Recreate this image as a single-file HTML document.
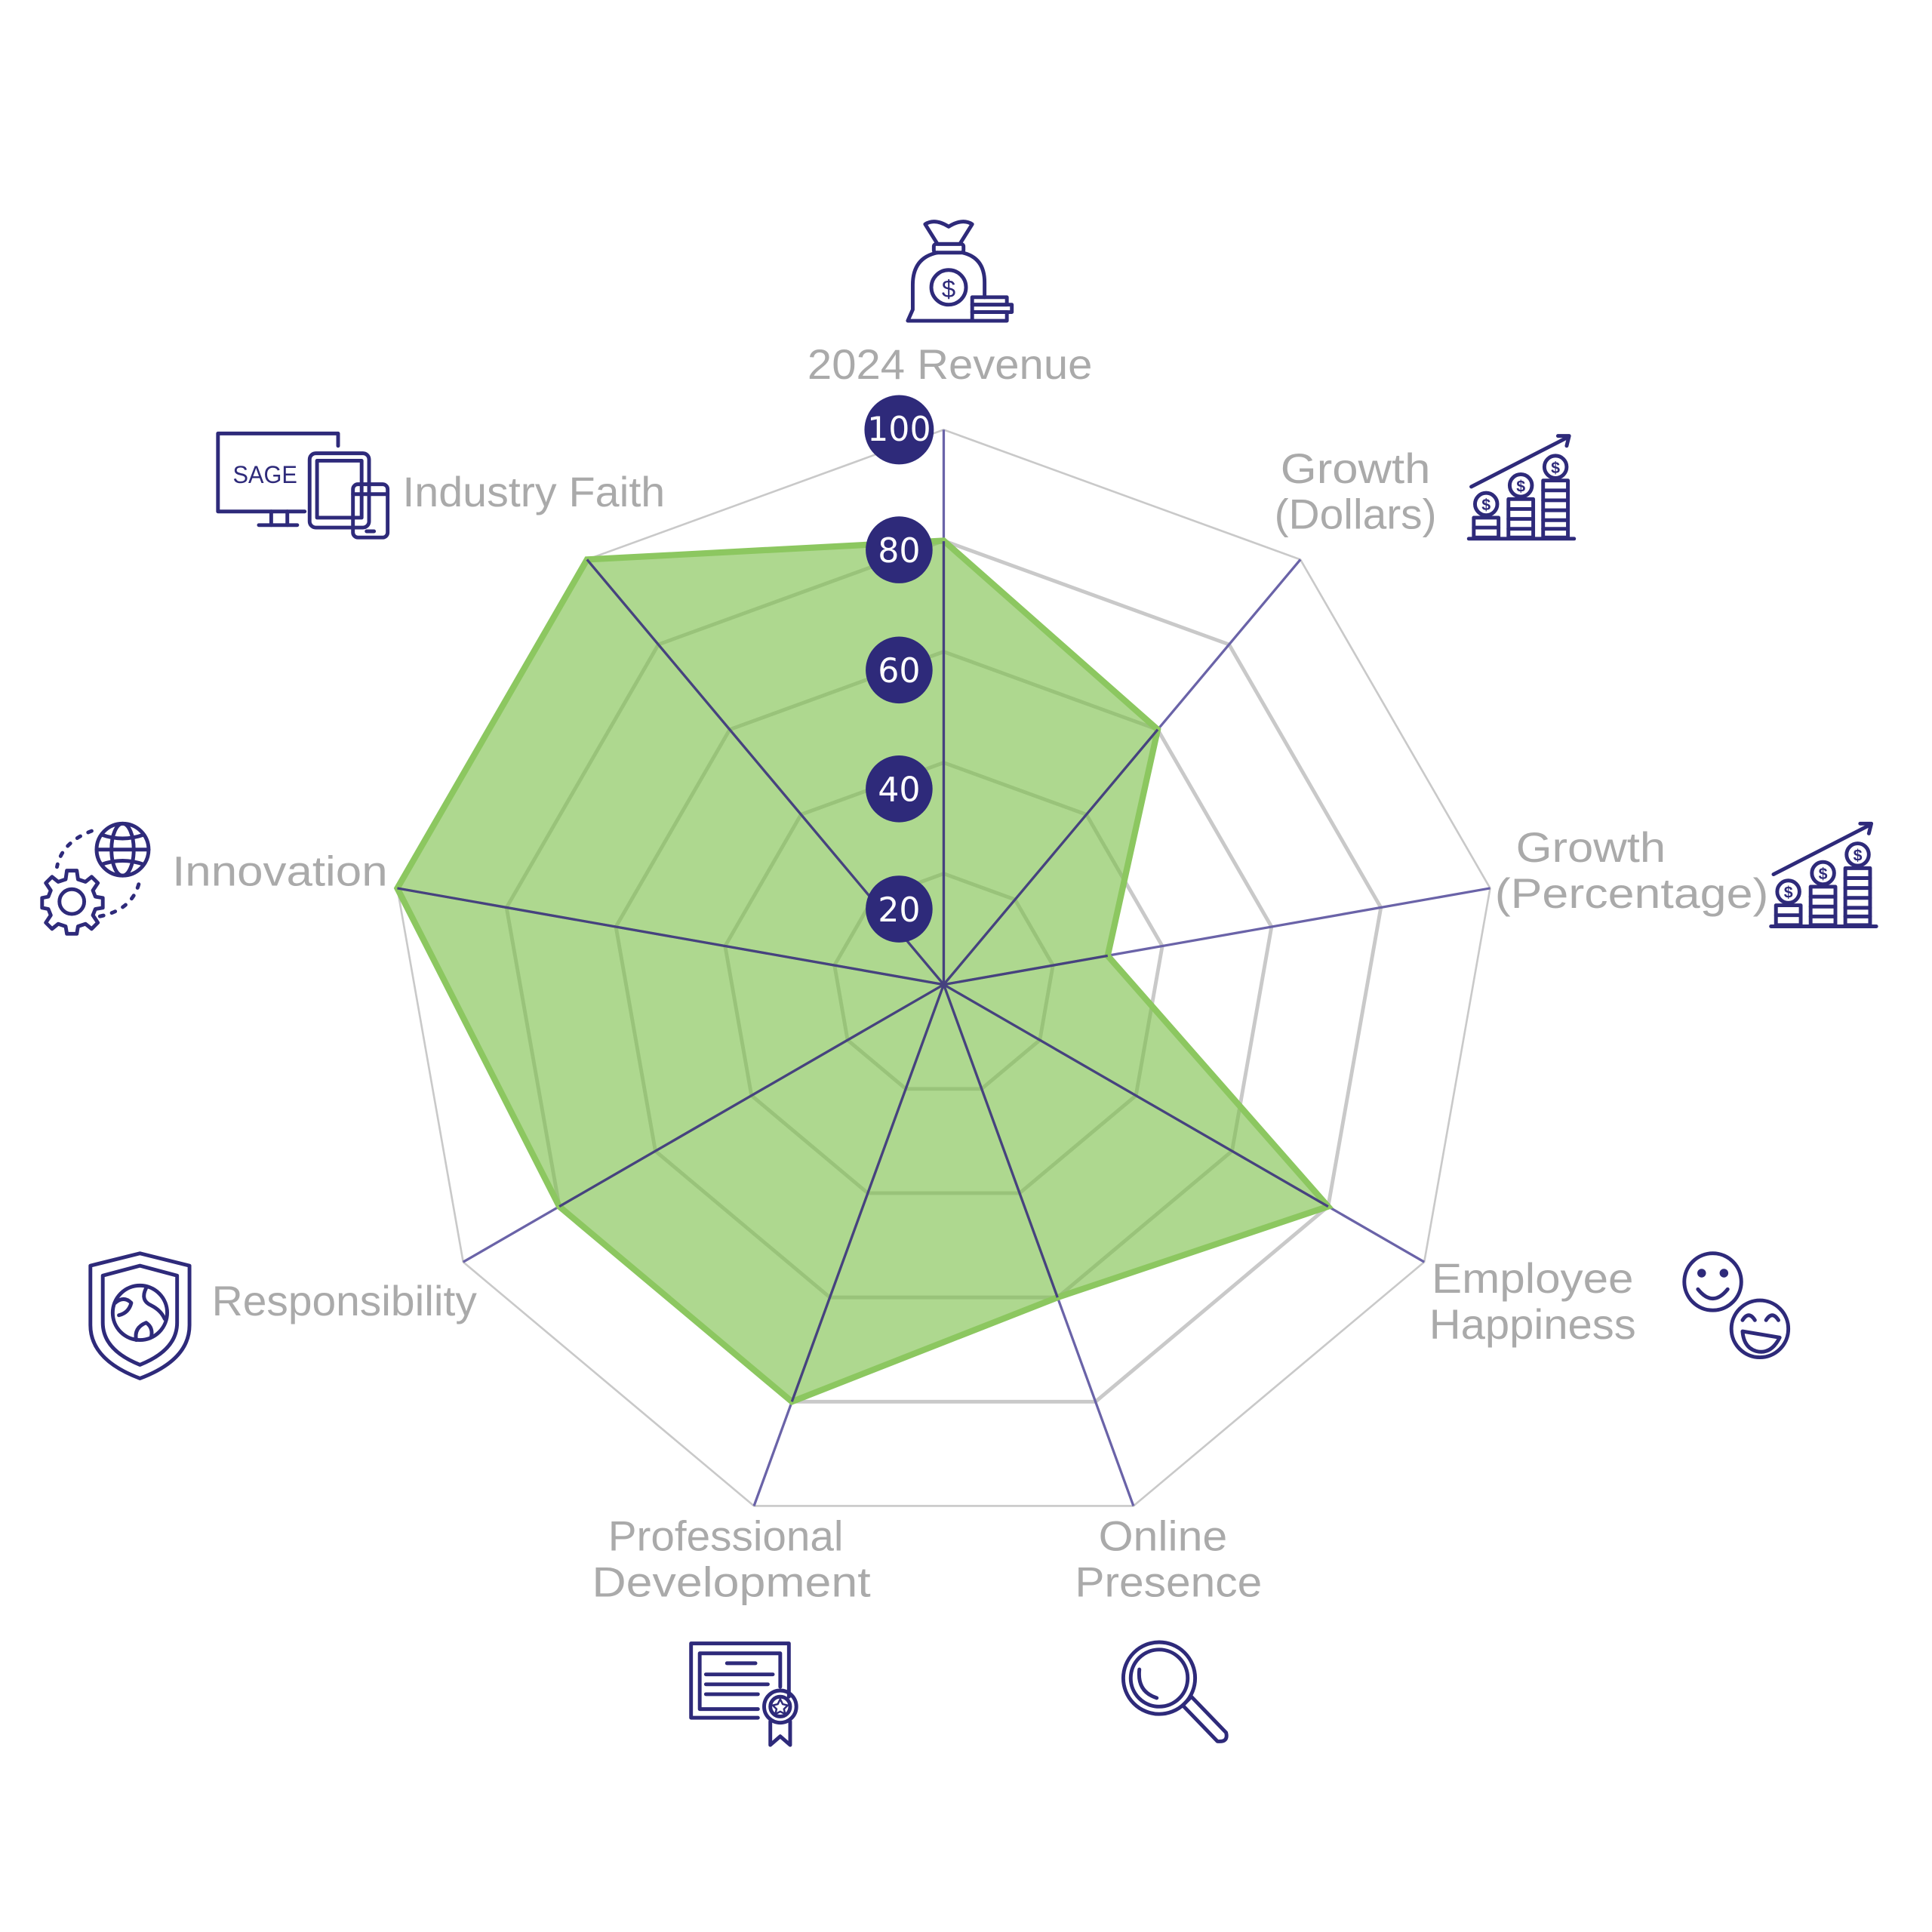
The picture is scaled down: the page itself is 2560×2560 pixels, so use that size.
<!DOCTYPE html>
<html><head><meta charset="utf-8"><style>
html,body{margin:0;padding:0;background:#fff;}
svg{display:block;}
.lbl{font-family:"Liberation Sans",sans-serif;font-size:34px;fill:#aaaaaa;}
.bd{font-family:"DejaVu Sans","Liberation Sans",sans-serif;font-size:27px;fill:#fff;text-anchor:middle;}
.ic{fill:none;stroke:#2e2a7a;stroke-width:3;stroke-linecap:round;stroke-linejoin:round;}
</style></head><body>
<svg width="2560" height="2560" viewBox="0 0 1560 1560" xmlns="http://www.w3.org/2000/svg">
<defs>
<g id="growth">
 <line class="ic" x1="2" y1="43" x2="80" y2="3"/>
 <polyline class="ic" points="72,2 81,2 79,10"/>
 <circle class="ic" cx="14" cy="57" r="9"/>
 <circle class="ic" cx="42" cy="42" r="9"/>
 <circle class="ic" cx="70" cy="27" r="9"/>
 <rect class="ic" x="4" y="68" width="20" height="16"/><line class="ic" x1="4" y1="76" x2="24" y2="76"/>
 <rect class="ic" x="32" y="53" width="20" height="31"/><line class="ic" x1="32" y1="61" x2="52" y2="61"/><line class="ic" x1="32" y1="69" x2="52" y2="69"/><line class="ic" x1="32" y1="77" x2="52" y2="77"/>
 <rect class="ic" x="60" y="38" width="20" height="46"/><line class="ic" x1="60" y1="46" x2="80" y2="46"/><line class="ic" x1="60" y1="54" x2="80" y2="54"/><line class="ic" x1="60" y1="62" x2="80" y2="62"/><line class="ic" x1="60" y1="70" x2="80" y2="70"/><line class="ic" x1="60" y1="77" x2="80" y2="77"/>
 <line class="ic" x1="0" y1="85" x2="85" y2="85"/>
 <text x="14" y="62" font-family="Liberation Sans" font-size="13" font-weight="bold" fill="#2e2a7a" text-anchor="middle">$</text>
 <text x="42" y="47" font-family="Liberation Sans" font-size="13" font-weight="bold" fill="#2e2a7a" text-anchor="middle">$</text>
 <text x="70" y="32" font-family="Liberation Sans" font-size="13" font-weight="bold" fill="#2e2a7a" text-anchor="middle">$</text>
</g>
</defs>

<!-- grid rings -->
<g transform="translate(762,795)" fill="none" stroke="#c9c9c9" stroke-linejoin="miter">
 <polygon stroke-width="1.6" points="0,-448 288,-343.2 441.2,-77.8 388,224 153.2,421 -153.2,421 -388,224 -441.2,-77.8 -288,-343.2"/>
 <polygon stroke-width="3" points="0,-358.4 230.4,-274.6 353,-62.2 310.4,179.2 122.6,336.8 -122.6,336.8 -310.4,179.2 -353,-62.2 -230.4,-274.6"/>
 <polygon stroke-width="3" points="0,-268.8 172.8,-205.9 264.7,-46.7 232.8,134.4 91.9,252.6 -91.9,252.6 -232.8,134.4 -264.7,-46.7 -172.8,-205.9"/>
 <polygon stroke-width="3" points="0,-179.2 115.2,-137.3 176.5,-31.1 155.2,89.6 61.3,168.4 -61.3,168.4 -155.2,89.6 -176.5,-31.1 -115.2,-137.3"/>
 <polygon stroke-width="3" points="0,-89.6 57.6,-68.6 88.2,-15.6 77.6,44.8 30.6,84.2 -30.6,84.2 -77.6,44.8 -88.2,-15.6 -57.6,-68.6"/>
</g>
<!-- axes -->
<g transform="translate(762,795)" stroke="#6a63a8" stroke-width="2">
 <line x1="0" y1="0" x2="0" y2="-448"/><line x1="0" y1="0" x2="288" y2="-343.2"/><line x1="0" y1="0" x2="441.2" y2="-77.8"/>
 <line x1="0" y1="0" x2="388" y2="224"/><line x1="0" y1="0" x2="153.2" y2="421"/><line x1="0" y1="0" x2="-153.2" y2="421"/>
 <line x1="0" y1="0" x2="-388" y2="224"/><line x1="0" y1="0" x2="-441.2" y2="-77.8"/><line x1="0" y1="0" x2="-288" y2="-343.2"/>
</g>
<!-- data -->
<g transform="translate(762,795)">
 <polygon points="0,-358.4 172.8,-205.9 132.4,-23.3 310.4,179.2 91.9,252.6 -122.6,336.8 -310.4,179.2 -441.2,-77.8 -288,-343.2" fill="#7cc04a" fill-opacity="0.62" stroke="#8cc760" stroke-width="5" stroke-linejoin="miter"/>
 <g stroke="#46427f" stroke-width="2">
 <line x1="0" y1="0" x2="0" y2="-358"/><line x1="0" y1="0" x2="172.8" y2="-205.9"/><line x1="0" y1="0" x2="132.4" y2="-23.3"/>
 <line x1="0" y1="0" x2="310.4" y2="179.2"/><line x1="0" y1="0" x2="91.9" y2="252.6"/><line x1="0" y1="0" x2="-122.6" y2="336.8"/>
 <line x1="0" y1="0" x2="-310.4" y2="179.2"/><line x1="0" y1="0" x2="-441.2" y2="-77.8"/><line x1="0" y1="0" x2="-288" y2="-343.2"/>
 </g>
</g>
<!-- badges -->
<g fill="#2e2a7a">
 <circle cx="726" cy="347" r="28"/><circle cx="726" cy="444" r="27"/><circle cx="726" cy="541" r="27"/><circle cx="726" cy="637" r="27"/><circle cx="726" cy="734" r="27"/>
</g>
<text class="bd" x="726" y="356" font-size="24">100</text>
<text class="bd" x="726" y="454">80</text>
<text class="bd" x="726" y="551">60</text>
<text class="bd" x="726" y="647">40</text>
<text class="bd" x="726" y="744">20</text>

<!-- labels -->
<g class="lbl" lengthAdjust="spacingAndGlyphs">
<text class="lbl" x="652" y="306" textLength="230" lengthAdjust="spacingAndGlyphs">2024 Revenue</text>
<text class="lbl" x="1034" y="390" textLength="121" lengthAdjust="spacingAndGlyphs">Growth</text>
<text class="lbl" x="1029" y="427" textLength="131" lengthAdjust="spacingAndGlyphs">(Dollars)</text>
<text class="lbl" x="1224" y="696" textLength="121" lengthAdjust="spacingAndGlyphs">Growth</text>
<text class="lbl" x="1207" y="733" textLength="221" lengthAdjust="spacingAndGlyphs">(Percentage)</text>
<text class="lbl" x="325" y="409" textLength="212" lengthAdjust="spacingAndGlyphs">Industry Faith</text>
<text class="lbl" x="139" y="715" textLength="174" lengthAdjust="spacingAndGlyphs">Innovation</text>
<text class="lbl" x="171" y="1062" textLength="214" lengthAdjust="spacingAndGlyphs">Responsibility</text>
<text class="lbl" x="1156" y="1044" textLength="163" lengthAdjust="spacingAndGlyphs">Employee</text>
<text class="lbl" x="1154" y="1081" textLength="167" lengthAdjust="spacingAndGlyphs">Happiness</text>
<text class="lbl" x="491" y="1252" textLength="190" lengthAdjust="spacingAndGlyphs">Professional</text>
<text class="lbl" x="478" y="1289" textLength="225" lengthAdjust="spacingAndGlyphs">Development</text>
<text class="lbl" x="887" y="1252" textLength="104" lengthAdjust="spacingAndGlyphs">Online</text>
<text class="lbl" x="868" y="1289" textLength="151" lengthAdjust="spacingAndGlyphs">Presence</text>
</g>

<!-- money bag icon -->
<g>
 <path class="ic" d="M747,181 Q755,176 766,183 Q777,176 785,181 L775,197 L757,197 Z"/>
 <rect class="ic" x="754" y="197" width="24" height="7" rx="2"/>
 <path class="ic" d="M757,204 Q737,208 737,230 L737,250 L733,259 L785,259 M777,204 Q795,208 795,228 L795,240"/>
 <circle class="ic" cx="766" cy="232" r="14"/>
 <text x="766" y="240" font-family="Liberation Sans" font-size="20" fill="#2e2a7a" text-anchor="middle">$</text>
 <rect class="ic" x="785" y="240" width="28" height="6"/><rect class="ic" x="785" y="246" width="32" height="6"/><rect class="ic" x="785" y="252" width="28" height="7"/>
</g>
<!-- growth icons -->
<use href="#growth" x="1186" y="350"/>
<use href="#growth" x="1430" y="663"/>
<!-- SAGE devices icon -->
<g>
 <path class="ic" d="M273,360 L273,350 L176,350 L176,413 L246,413"/>
 <line class="ic" x1="219" y1="413" x2="219" y2="424"/><line class="ic" x1="232" y1="413" x2="232" y2="424"/><line class="ic" x1="209" y1="424" x2="240" y2="424"/>
 <text x="188" y="390" font-family="Liberation Sans" font-size="20" fill="#2e2a7a" textLength="52" lengthAdjust="spacingAndGlyphs">SAGE</text>
 <rect class="ic" x="250" y="366" width="48" height="60" rx="5"/>
 <rect class="ic" x="256" y="372" width="36" height="46"/>
 <rect class="ic" x="285" y="391" width="28" height="43" rx="4" fill="#fff"/>
 <line class="ic" x1="285" y1="399" x2="313" y2="399"/><line class="ic" x1="296" y1="429" x2="302" y2="429"/>
</g>
<!-- innovation icon -->
<g>
 <circle class="ic" cx="99" cy="686" r="21"/>
 <ellipse class="ic" cx="99" cy="686" rx="9" ry="21"/>
 <line class="ic" x1="78" y1="686" x2="120" y2="686"/>
 <path class="ic" d="M82,674 Q99,680 116,674 M82,698 Q99,692 116,698"/>
 <path d="M74,671 Q50,680 46,700 M112,714 Q106,735 80,740" fill="none" stroke="#2e2a7a" stroke-width="3" stroke-dasharray="3,7" stroke-linecap="round"/>
 <path class="ic" d="M54,703 L62,703 L63,710 L69,712 L74,708 L79,713 L75,719 L77,724 L83,725 L83,733 L77,734 L75,739 L79,745 L74,750 L69,746 L63,748 L62,754 L54,754 L53,748 L47,746 L42,750 L37,745 L41,739 L39,734 L34,733 L34,725 L39,724 L41,719 L37,713 L42,708 L47,712 L53,710 Z"/>
 <circle class="ic" cx="58" cy="728" r="10"/>
</g>
<!-- responsibility shield -->
<g>
 <path class="ic" d="M113,1012 L153,1022 L153,1070 Q153,1098 113,1113 Q73,1098 73,1070 L73,1022 Z"/>
 <path class="ic" d="M113,1022 L143,1030 L143,1068 Q143,1090 113,1102 Q83,1090 83,1068 L83,1030 Z"/>
 <circle class="ic" cx="113" cy="1060" r="22"/>
 <path class="ic" d="M93,1052 Q100,1046 106,1052 Q104,1060 96,1062 M118,1040 Q113,1050 122,1054 Q130,1058 133,1065 M110,1082 Q108,1072 118,1068 Q124,1072 122,1080"/>
</g>
<!-- happiness icon -->
<g>
 <circle class="ic" cx="1383" cy="1035" r="23"/>
 <circle cx="1374" cy="1028" r="3.5" fill="#2e2a7a"/><circle cx="1392" cy="1028" r="3.5" fill="#2e2a7a"/>
 <path class="ic" d="M1371,1041 Q1383,1056 1395,1041"/>
 <circle class="ic" cx="1421" cy="1073" r="23"/>
 <path class="ic" d="M1407,1066 Q1412,1058 1417,1066 M1426,1066 Q1431,1058 1436,1066"/>
 <path class="ic" d="M1407,1075 L1437,1080 Q1430,1094 1418,1091 Q1408,1088 1407,1075 Z"/>
</g>
<!-- certificate icon -->
<g>
 <path class="ic" d="M558,1327 L637,1327 L637,1370 M558,1327 L558,1387 L612,1387"/>
 <path class="ic" d="M565,1335 L630,1335 L630,1362 M565,1335 L565,1380 L612,1380"/>
 <line class="ic" x1="587" y1="1343" x2="610" y2="1343"/>
 <line class="ic" x1="570" y1="1352" x2="624" y2="1352"/>
 <line class="ic" x1="570" y1="1360" x2="620" y2="1360"/>
 <line class="ic" x1="570" y1="1368" x2="612" y2="1368"/>
 <circle class="ic" cx="630" cy="1378" r="13" fill="#fff"/>
 <circle class="ic" cx="630" cy="1378" r="8"/>
 <path class="ic" d="M622,1390 L622,1409 L630,1402 L638,1409 L638,1390"/>
 <path d="M630,1372 L632,1376 L636,1377 L633,1380 L634,1384 L630,1382 L626,1384 L627,1380 L624,1377 L628,1376 Z" fill="none" stroke="#2e2a7a" stroke-width="1.5"/>
</g>
<!-- magnifier -->
<g>
 <circle class="ic" cx="936" cy="1355" r="29"/>
 <circle class="ic" cx="936" cy="1355" r="23"/>
 <path class="ic" d="M920,1348 Q918,1366 934,1371"/>
 <path class="ic" d="M955,1377 L962,1370 L990,1399 Q992,1407 983,1406 Z"/>
</g>
</svg>
</body></html>
